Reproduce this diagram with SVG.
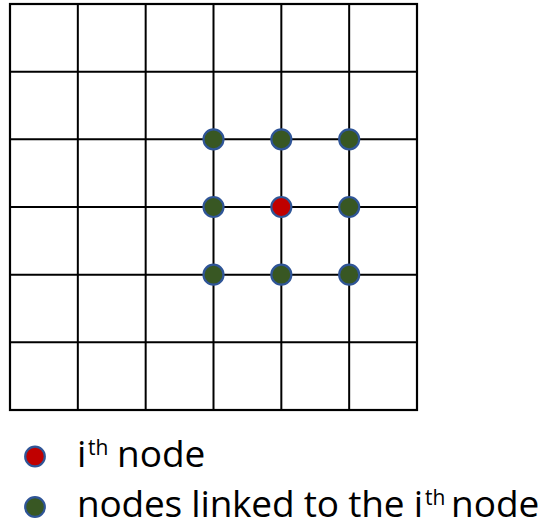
<svg xmlns="http://www.w3.org/2000/svg" width="544" height="528" viewBox="0 0 544 528">
  <style>
    .grid line { stroke: #000; stroke-width: 2; }
    .frame { fill: none; stroke: #000; stroke-width: 2.2; }
    .node { stroke: #2F5597; stroke-width: 2.2; }
    .ith { fill: #C00000; }
    .linked { fill: #385723; }
    .lbl { font-family: "Open Sans", "Liberation Sans", sans-serif; font-size: 37px; fill: #000; }
    .sup { font-family: "Open Sans", "Liberation Sans", sans-serif; font-size: 21px; fill: #000; }
  </style>
  <rect width="544" height="528" fill="#fff"/>
  <g id="connectors" class="grid">
    <rect class="frame" x="10" y="4" width="407" height="406"/>
    <line x1="77.83" y1="4" x2="77.83" y2="410"/>
    <line x1="145.67" y1="4" x2="145.67" y2="410"/>
    <line x1="213.5" y1="4" x2="213.5" y2="410"/>
    <line x1="281.33" y1="4" x2="281.33" y2="410"/>
    <line x1="349.17" y1="4" x2="349.17" y2="410"/>
    <line x1="10" y1="71.67" x2="417" y2="71.67"/>
    <line x1="10" y1="139.33" x2="417" y2="139.33"/>
    <line x1="10" y1="207" x2="417" y2="207"/>
    <line x1="10" y1="274.67" x2="417" y2="274.67"/>
    <line x1="10" y1="342.33" x2="417" y2="342.33"/>
  </g>
  <g id="node-1"><circle class="node linked" cx="213.5" cy="139.33" r="10"/></g>
  <g id="node-2"><circle class="node linked" cx="281.33" cy="139.33" r="10"/></g>
  <g id="node-3"><circle class="node linked" cx="349.17" cy="139.33" r="10"/></g>
  <g id="node-4"><circle class="node linked" cx="213.5" cy="207" r="10"/></g>
  <g id="node-i"><circle class="node ith" cx="281.33" cy="207" r="10"/></g>
  <g id="node-6"><circle class="node linked" cx="349.17" cy="207" r="10"/></g>
  <g id="node-7"><circle class="node linked" cx="213.5" cy="274.67" r="10"/></g>
  <g id="node-8"><circle class="node linked" cx="281.33" cy="274.67" r="10"/></g>
  <g id="node-9"><circle class="node linked" cx="349.17" cy="274.67" r="10"/></g>
  <g id="legend-ith">
    <circle class="node ith" cx="35" cy="456.5" r="9.8"/>
    <text class="lbl" x="77" y="467">i</text>
    <text class="sup" x="88" y="455">th</text>
    <text class="lbl" x="117" y="467">node</text>
  </g>
  <g id="legend-linked">
    <circle class="node linked" cx="35" cy="507" r="9.8"/>
    <text class="lbl" x="77" y="516.5" textLength="346" lengthAdjust="spacing">nodes linked to the i</text>
    <text class="sup" x="425" y="504.5">th</text>
    <text class="lbl" x="451" y="516.5">node</text>
  </g>
</svg>
